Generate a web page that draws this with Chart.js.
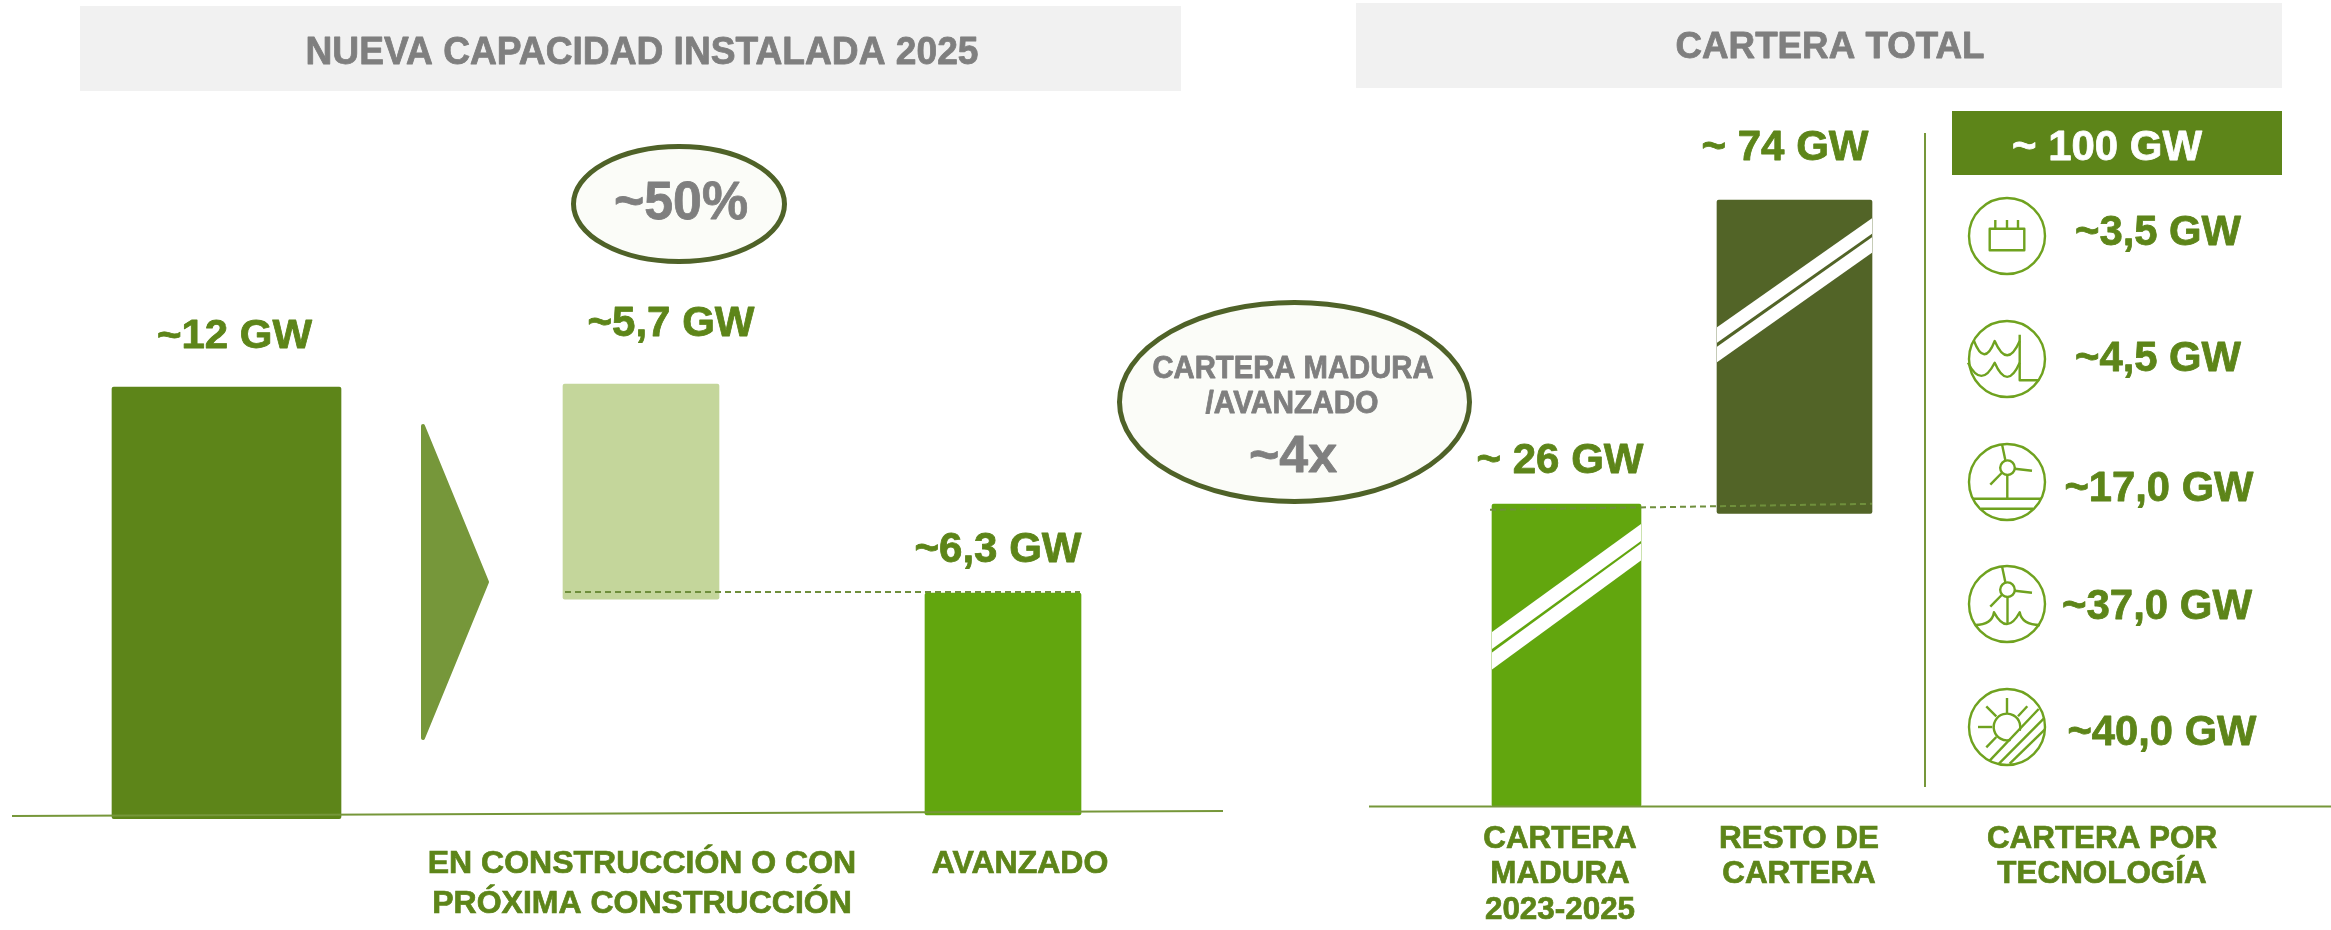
<!DOCTYPE html>
<html lang="es">
<head>
<meta charset="utf-8">
<title>Nueva capacidad instalada 2025 y cartera total</title>
<script src="https://cdn.jsdelivr.net/npm/chart.js@4/dist/chart.umd.min.js"></script>
<style>
html,body{margin:0;padding:0;background:#fff;overflow:hidden}
#wrap{position:relative;width:2331px;height:930px}
canvas{position:absolute;top:0}
#cL{left:0}
#cR{left:1100px}
</style>
</head>
<body>
<div id="wrap">
<canvas id="cL" width="1240" height="930"></canvas>
<canvas id="cR" width="1231" height="930"></canvas>
</div>
<script>
// ---- data ----
const leftCategories = [["EN CONSTRUCCIÓN O CON","PRÓXIMA CONSTRUCCIÓN"],"AVANZADO"];
const leftBarLow  = [-0.1, 6.05, 0];
const leftBarHigh = [12, 12.08, 6.22];
const leftLabels  = ["~12 GW","~5,7 GW","~6,3 GW"];
const rightCategories = [["CARTERA","MADURA","2023-2025"],["RESTO DE","CARTERA"],["CARTERA POR","TECNOLOGÍA"]];
const rightBarLow  = [0, 25.2];
const rightBarHigh = [26, 100];
const rightLabels  = ["~ 26 GW","~ 74 GW"];
const totalLabel = "~ 100 GW";
const techLabels = ["~3,5 GW","~4,5 GW","~17,0 GW","~37,0 GW","~40,0 GW"];

// ---- layout and style ----
const GREEN="#5d8519", BAR1="#5d8519", BAR2="#c4d69b", BAR3="#62a60e", BAR5="#526427";
const LINE="#76973a", DASH="#6f8f3c", GREY="#7f7f7f", ICON="#6fa21f", OUTLINE="#4f6228", SOFT="#fbfcf8", HEAD="#f1f1f1";
const FONT='"Liberation Sans", Arial, sans-serif';
const leftSlots=[2.265,6.41,10.03], leftTickSlots=[6.42,10.2];
const leftWidths=[229,156,156];
const rightSlots=[4.665,6.945], rightTickSlots=[4.6,6.99,10.02];
const rightWidths=[149,155];
const yBreak=26, yBreakFrac=(806.5-504)/806.5, yMaxRight=148.7;

class BrokenScale extends Chart.LinearScale{
  getPixelForValue(v){
    const f=v<=yBreak? v/yBreak*yBreakFrac : yBreakFrac+(v-yBreak)/(yMaxRight-yBreak)*(1-yBreakFrac);
    return this.getPixelForDecimal(f);
  }
  getValueForPixel(p){
    const f=this.getDecimalForPixel(p);
    return f<=yBreakFrac? f/yBreakFrac*yBreak : yBreak+(f-yBreakFrac)/(1-yBreakFrac)*(yMaxRight-yBreak);
  }
}
BrokenScale.id='broken';
BrokenScale.defaults=Chart.LinearScale.defaults;
Chart.register(BrokenScale);

function txt(c,s,cx,cy,size,color,w){
  c.save();
  c.font='bold '+size+'px '+FONT;
  c.fillStyle=color;c.strokeStyle=color;c.lineWidth=0.8;c.lineJoin='round';
  c.textAlign='center';c.textBaseline='alphabetic';
  const m=c.measureText(s).width;
  c.translate(cx,cy+size*0.36);
  if(w)c.scale(w/m,1);
  c.fillText(s,0,0);
  c.strokeText(s,0,0);
  c.restore();
}
function ell(c,x0,x1,y0,y1){
  c.save();c.beginPath();
  c.ellipse((x0+x1)/2,(y0+y1)/2,(x1-x0)/2-2.5,(y1-y0)/2-2.5,0,0,Math.PI*2);
  c.fillStyle=SOFT;c.fill();c.lineWidth=5;c.strokeStyle=OUTLINE;c.stroke();c.restore();
}
function stripe(c,bar,tr,tl,th){
  const l=bar.x-bar.width/2,r=bar.x+bar.width/2,t=bar.y;
  c.save();c.fillStyle="#fff";c.beginPath();
  c.moveTo(l,t+tl-th/2);c.lineTo(r,t+tr-th/2);c.lineTo(r,t+tr+th/2);c.lineTo(l,t+tl+th/2);
  c.closePath();c.fill();c.restore();
}
function icon(c,kind,cx,cy){
  c.save();c.translate(cx,cy);c.strokeStyle=ICON;c.lineWidth=2.4;c.lineJoin='round';
  const seg=(...p)=>{c.beginPath();c.moveTo(p[0],p[1]);for(let i=2;i<p.length;i+=2)c.lineTo(p[i],p[i+1]);c.stroke();};
  c.beginPath();c.arc(0,0,38,0,Math.PI*2);c.stroke();
  const turbine=()=>{
    c.beginPath();c.arc(0.5,-14.3,7.3,0,Math.PI*2);c.stroke();
    seg(-1.7,-22,-5,-37.7);seg(7.7,-13.3,25,-11.3);seg(-5.3,-9,-16.7,2.7);
  };
  if(kind===0){
    c.strokeRect(-17.3,-7.3,34.6,21.6);
    seg(-11.7,-16,-11.7,-7.3);seg(0,-16,0,-7.3);seg(11,-16,11,-7.3);
  }else if(kind===1){
    c.beginPath();c.moveTo(-33.3,-18.7);c.quadraticCurveTo(-22.8,8.9,-12.3,-18);c.quadraticCurveTo(0.2,10.6,12.7,-18);c.stroke();
    c.beginPath();c.moveTo(-39,3.7);c.quadraticCurveTo(-25.6,30,-12.3,3.7);c.quadraticCurveTo(0.2,32,12.7,3.7);c.stroke();
    seg(12.7,-24.3,12.7,21.3,31,21.3);
  }else if(kind===2){
    turbine();seg(0.3,-7,0.3,16.7);seg(-34,16.7,34,16.7);seg(-26,26.7,26,26.7);
  }else if(kind===3){
    turbine();seg(0.5,-7,0.5,20);
    c.beginPath();c.moveTo(-32,21);c.quadraticCurveTo(-15,21,-13,8.3);c.quadraticCurveTo(0,32,12.7,8.3);c.quadraticCurveTo(15,21,33,21);c.stroke();
  }else{
    c.beginPath();c.arc(0,0,13.3,74.3*Math.PI/180,375.7*Math.PI/180);c.stroke();
    seg(0,-29,0,-14);seg(-20.7,-20.7,-10.7,-10.7);seg(20.3,-20.7,11,-10.7);seg(-29,0,-14.7,0);seg(-20.7,20.3,-10.7,10);
    seg(-17.3,33.7,31.7,-18);seg(-8,36.7,36.7,-8.3);seg(2.7,36.7,37.7,2.7);
  }
  c.restore();
}

const baseOpts=(xMax,ticks,tickLabels,size,lineH,axisH,pad,yScale)=>({
  responsive:false,animation:false,devicePixelRatio:1,
  layout:{padding:0},
  plugins:{legend:{display:false},title:{display:false},tooltip:{enabled:false}},
  scales:{
    x:{type:'linear',min:0,max:xMax,offset:false,display:true,
       grid:{display:false,drawTicks:false},border:{display:false},
       afterBuildTicks:a=>{a.ticks=ticks.map(v=>({value:v}));},
       afterFit:a=>{a.height=axisH;a.paddingLeft=0;a.paddingRight=0;},
       ticks:{autoSkip:false,maxRotation:0,minRotation:0,padding:pad,color:GREEN,
              textStrokeColor:GREEN,textStrokeWidth:0.7,
              font:{family:FONT,weight:'bold',size:size,lineHeight:lineH},
              callback:(v,i)=>tickLabels[i]}},
    y:yScale
  }
});

// ---- left panel ----
const leftDecor={id:'leftDecor',
  beforeDatasetsDraw(ch){
    const c=ch.ctx;
    c.fillStyle=HEAD;c.fillRect(80,6,1101,85);
    c.save();c.fillStyle=LINE;c.strokeStyle=LINE;c.lineWidth=4;c.lineJoin='round';
    c.beginPath();c.moveTo(423,426);c.lineTo(487,582);c.lineTo(423,738);c.closePath();c.fill();c.stroke();c.restore();
  },
  afterDatasetsDraw(ch){
    const c=ch.ctx;
    txt(c,"NUEVA CAPACIDAD INSTALADA 2025",642,50,38,GREY,673);
    ell(c,571,787,144,264);
    txt(c,"~50%",681,200,54,GREY,134);
    txt(c,leftLabels[0],234.5,334,40,GREEN,155);
    txt(c,leftLabels[1],671,321,42,GREEN,167);
    txt(c,leftLabels[2],998,547,42,GREEN,167);
  }
};
new Chart(document.getElementById('cL'),{
  type:'bar',
  data:{datasets:[
    {type:'line',order:0,data:[{x:0.12,y:-0.03},{x:12.23,y:0.11}],borderColor:LINE,borderWidth:2,pointRadius:0,clip:false},
    {type:'line',order:0,data:[{x:5.65,y:leftBarHigh[2]+0.03},{x:10.8,y:leftBarHigh[2]+0.03}],borderColor:DASH,borderWidth:2,borderDash:[6,4],pointRadius:0,clip:false},
    ...leftSlots.map((s,i)=>({order:1,grouped:false,clip:false,barThickness:leftWidths[i],borderRadius:2,borderSkipped:false,
      backgroundColor:[BAR1,BAR2,BAR3][i],data:[{x:s,y:[leftBarLow[i],leftBarHigh[i]]}]}))
  ]},
  plugins:[leftDecor],
  options:baseOpts(12.4,leftTickSlots,leftCategories,32,1.25,115,29,{type:'linear',min:0,max:815/35.67,display:false})
});

// ---- right panel ----
const rightDecor={id:'rightDecor',
  beforeDatasetsDraw(ch){
    const c=ch.ctx,ox=1100;
    c.fillStyle=HEAD;c.fillRect(1356-ox,3,926,85);
    c.fillStyle=LINE;c.fillRect(1924-ox,133,2,654);
    c.fillStyle=GREEN;c.fillRect(1952-ox,111,330,64);
  },
  afterDatasetsDraw(ch){
    const c=ch.ctx,ox=1100;
    const bars=[ch.getDatasetMeta(2).data[0],ch.getDatasetMeta(3).data[0]];
    stripe(c,bars[0],28.6,136.5,17);stripe(c,bars[0],48,157,17);
    stripe(c,bars[1],26,135,15.5);stripe(c,bars[1],45,154.5,15.5);
    txt(c,"CARTERA TOTAL",1830-ox,45,37,GREY,309);
    ell(c,1117-ox,1472-ox,300,504);
    txt(c,"CARTERA MADURA",1293-ox,367,31,GREY,281);
    txt(c,"/AVANZADO",1292-ox,402,31,GREY,173);
    txt(c,"~4x",1293-ox,453,52,GREY,88);
    txt(c,rightLabels[0],1560-ox,458,42,GREEN,167);
    txt(c,rightLabels[1],1785-ox,145,42,GREEN,167);
    txt(c,totalLabel,2107-ox,144.5,43,"#ffffff",190);
    const yI=[236,359,482,604,727], xT=[2158,2158,2159,2157,2162], yT=[230,356,486,604,730], wT=[166,166,189,190,189];
    techLabels.forEach((s,i)=>{
      icon(c,i,2007-ox,yI[i]);
      txt(c,s,xT[i]-ox,yT[i],42,GREEN,wT[i]);
    });
  }
};
new Chart(document.getElementById('cR'),{
  type:'bar',
  data:{datasets:[
    {type:'line',order:0,data:[{x:2.69,y:0},{x:12.31,y:0}],borderColor:LINE,borderWidth:2,pointRadius:0,clip:false},
    {type:'line',order:0,data:[{x:3.9,y:25.5},{x:7.72,y:26.05}],borderColor:DASH,borderWidth:2,borderDash:[6,4],pointRadius:0,clip:false},
    ...rightSlots.map((s,i)=>({order:1,grouped:false,clip:false,barThickness:rightWidths[i],borderRadius:2,borderSkipped:false,
      backgroundColor:[BAR3,BAR5][i],data:[{x:s,y:[rightBarLow[i],rightBarHigh[i]]}]}))
  ]},
  plugins:[rightDecor],
  options:baseOpts(12.31,rightTickSlots,rightCategories,31.4,1.13,123.5,15,{type:'broken',min:0,max:yMaxRight,display:false})
});
</script>
</body>
</html>
